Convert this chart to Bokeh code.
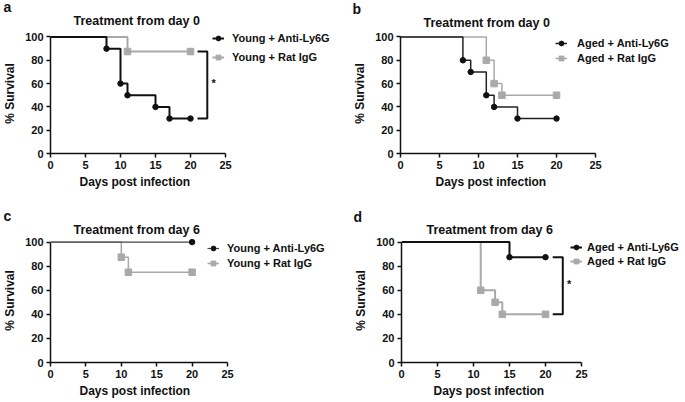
from bokeh.plotting import figure
from bokeh.models import Range1d, FixedTicker, Legend, LegendItem, Label, Title
from bokeh.layouts import column, row
from bokeh.embed import file_html
from bokeh.resources import INLINE

# ---------------- data ----------------
x_ticks = [0, 5, 10, 15, 20, 25]
y_ticks = [0, 20, 40, 60, 80, 100]
x_label = "Days post infection"
y_label = "% Survival"

a_title = "Treatment from day 0"
a_anti_label = "Young + Anti-Ly6G"
a_anti_days = [0, 8, 10, 11, 15, 17, 20]
a_anti_surv = [100, 90, 60, 50, 40, 30, 30]
a_rat_label = "Young + Rat IgG"
a_rat_days = [0, 11, 20]
a_rat_surv = [100, 87.5, 87.5]

b_title = "Treatment from day 0"
b_anti_label = "Aged + Anti-Ly6G"
b_anti_days = [0, 8, 9, 11, 12, 15, 20]
b_anti_surv = [100, 80, 70, 50, 40, 30, 30]
b_rat_label = "Aged + Rat IgG"
b_rat_days = [0, 11, 12, 13, 20]
b_rat_surv = [100, 80, 60, 50, 50]

c_title = "Treatment from day 6"
c_anti_label = "Young + Anti-Ly6G"
c_anti_days = [0, 20]
c_anti_surv = [100, 100]
c_rat_label = "Young + Rat IgG"
c_rat_days = [0, 10, 11, 20]
c_rat_surv = [100, 87.5, 75, 75]

d_title = "Treatment from day 6"
d_anti_label = "Aged + Anti-Ly6G"
d_anti_days = [0, 15, 20]
d_anti_surv = [100, 87.5, 87.5]
d_rat_label = "Aged + Rat IgG"
d_rat_days = [0, 11, 13, 14, 20]
d_rat_surv = [100, 60, 50, 40, 40]

bracket_x = [21.0, 22.4]
star_text = "*"

FONT = "Liberation Sans"
BLACK = "#111111"
GRAY = "#a9a9a9"


def make_panel(letter, title, anti, rat, width, height, mb, px_per_day, title_standoff, title_offset,
               xlab_offset, letter_offset, letter_standoff, legend_loc, legend_spacing, legend_standoff,
               lw_anti, lw_rat, anti_line_color, bracket=False):
    ml, mr, mt, mbot = mb
    frame_w = width - ml - mr
    x_end = frame_w / px_per_day
    p = figure(width=width, height=height, x_range=Range1d(0, x_end), y_range=Range1d(0, 103),
               output_backend="svg", toolbar_location=None,
               min_border_left=ml, min_border_right=mr, min_border_top=mt, min_border_bottom=mbot)
    p.outline_line_color = None
    p.grid.visible = False
    p.background_fill_color = "white"
    p.border_fill_color = "white"

    # outer title row: panel letter
    p.title.text = letter
    p.title.align = "left"
    p.title.offset = letter_offset
    p.title.standoff = letter_standoff
    p.title.text_font = FONT
    p.title.text_font_style = "bold"
    p.title.text_font_size = "14px"
    p.title.text_color = BLACK

    # inner title row: panel heading
    p.add_layout(Title(text=title, align="left", offset=title_offset, standoff=title_standoff,
                       text_font=FONT, text_font_style="bold", text_font_size="12.5px",
                       text_color=BLACK), "above")

    p.xaxis.ticker = FixedTicker(ticks=x_ticks)
    p.yaxis.ticker = FixedTicker(ticks=y_ticks)
    p.xaxis.bounds = (x_ticks[0], x_ticks[-1])
    p.yaxis.bounds = (y_ticks[0], y_ticks[-1])
    p.yaxis.axis_label = y_label
    for ax in (p.xaxis, p.yaxis):
        ax.axis_line_width = 1.5
        ax.axis_line_color = BLACK
        ax.major_tick_line_width = 1.5
        ax.major_tick_line_color = BLACK
        ax.major_tick_out = 4
        ax.major_tick_in = 0
        ax.minor_tick_line_color = None
        ax.major_label_text_font = FONT
        ax.major_label_text_font_style = "bold"
        ax.major_label_text_font_size = "11px"
        ax.major_label_text_color = BLACK
        ax.major_label_standoff = 3
        ax.axis_label_text_font = FONT
        ax.axis_label_text_font_style = "bold"
        ax.axis_label_text_font_size = "12px"
        ax.axis_label_text_color = BLACK
        ax.axis_label_standoff = 5

    p.add_layout(Title(text=x_label, align="left", offset=xlab_offset, standoff=2,
                       text_font=FONT, text_font_style="bold", text_font_size="12px",
                       text_color=BLACK), "below")

    (ad, asv, alab), (rd, rsv, rlab) = anti, rat
    r_line_rat = p.step(rd, rsv, mode="after", line_color=GRAY, line_width=lw_rat)
    r_sc_rat = p.scatter(rd[1:], rsv[1:], marker="square", size=6.5, fill_color=GRAY, line_color=GRAY)
    r_line_anti = p.step(ad, asv, mode="after", line_color=anti_line_color, line_width=lw_anti)
    r_sc_anti = p.scatter(ad[1:], asv[1:], marker="circle", size=5.5, fill_color=BLACK, line_color=BLACK)

    if bracket:
        top, bot = max(asv[-1], rsv[-1]), min(asv[-1], rsv[-1])
        p.line([bracket_x[0], bracket_x[1], bracket_x[1], bracket_x[0]], [top, top, bot, bot],
               line_color=BLACK, line_width=2)
        p.add_layout(Label(x=bracket_x[1] + 0.9, y=(top + bot) / 2 + 1.5, text=star_text,
                           text_font=FONT, text_font_style="bold", text_font_size="11px",
                           text_color=BLACK, text_align="center", text_baseline="middle"))

    legend = Legend(items=[LegendItem(label=alab, renderers=[r_line_anti, r_sc_anti]),
                           LegendItem(label=rlab, renderers=[r_line_rat, r_sc_rat])],
                    location=legend_loc, orientation="vertical",
                    label_text_font=FONT, label_text_font_style="bold", label_text_font_size="11px",
                    label_text_color=BLACK, label_height=14, glyph_height=14, glyph_width=12,
                    label_standoff=legend_standoff, spacing=legend_spacing, padding=0, margin=0,
                    border_line_color=None, background_fill_alpha=0)
    p.add_layout(legend)
    return p


pa = make_panel("a", a_title, (a_anti_days, a_anti_surv, a_anti_label), (a_rat_days, a_rat_surv, a_rat_label),
                343, 200, (50, 0, 31, 46), 175 / 25, 11, 23, 29, -47, -16, (162, 89), 5, 8, 2, 2, BLACK,
                bracket=True)
pb = make_panel("b", b_title, (b_anti_days, b_anti_surv, b_anti_label), (b_rat_days, b_rat_surv, b_rat_label),
                342, 200, (57, 0, 33, 47), 195 / 25, 8, 23, 35, -48, -14, (155, 88), 1, 10, 1.5, 1.5, "#222222")
pc = make_panel("c", c_title, (c_anti_days, c_anti_surv, c_anti_label), (c_rat_days, c_rat_surv, c_rat_label),
                343, 202, (50, 0, 38, 40), 177 / 25, 4, 23, 29, -47, -10, (157, 92), 1, 8, 1.2, 1.5, "#444444")
pd = make_panel("d", d_title, (d_anti_days, d_anti_surv, d_anti_label), (d_rat_days, d_rat_surv, d_rat_label),
                342, 202, (58, 0, 37, 40), 180 / 25, 3, 25, 32, -48, -10, (169, 94), 0, 5, 2, 2, BLACK,
                bracket=True)

layout = column(row(pa, pb), row(pc, pd))
open("out.html", "w").write(file_html(layout, INLINE))
